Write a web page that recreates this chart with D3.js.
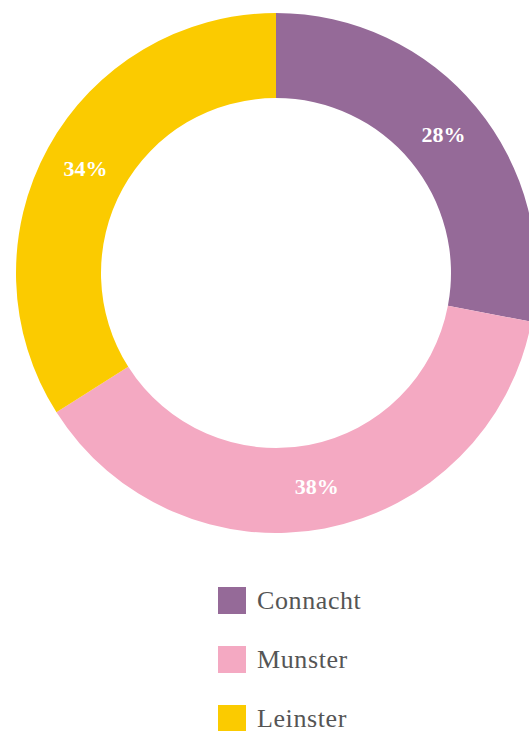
<!DOCTYPE html>
<html>
<head>
<meta charset="utf-8">
<script src="https://cdn.jsdelivr.net/npm/d3@7"></script>
<style>
  body { margin: 0; background: #fff; }
  svg { display: block; }
</style>
</head>
<body>
<svg id="chart" width="529" height="731"></svg>
<script>
// data
var regions = ["Connacht", "Munster", "Leinster"];
var shares = [28, 38, 34];
var colours = ["#956a98", "#f4a9c2", "#fbcb00"];

var svg = d3.select("#chart");
var centre = {x: 276, y: 273};
var outerR = 260, innerR = 175;

var pieData = d3.pie().sort(null).value(function(d){ return d.value; })(
    regions.map(function(r, i){ return {name: r, value: shares[i]}; })
);

var colour = d3.scaleOrdinal().domain(regions).range(colours);
var arc = d3.arc().innerRadius(innerR).outerRadius(outerR);

var donut = svg.append("g")
    .attr("transform", "translate(" + centre.x + "," + centre.y + ")");

donut.selectAll("path").data(pieData).enter()
    .append("path")
    .attr("d", arc)
    .attr("fill", function(d){ return colour(d.data.name); });

// percent labels
donut.selectAll("text").data(pieData).enter()
    .append("text")
    .attr("x", function(d){ return arc.centroid(d)[0]; })
    .attr("y", function(d){ return arc.centroid(d)[1]; })
    .attr("dy", "0.35em")
    .attr("text-anchor", "middle")
    .attr("fill", "#fff")
    .attr("font-family", "'Liberation Serif', serif")
    .attr("font-weight", "bold")
    .attr("font-size", 22)
    .text(function(d){ return d.data.value + "%"; });

// legend
var legendY = d3.scalePoint().domain(regions).range([600, 718]);
var legend = svg.append("g").attr("class", "legend");

var rows = legend.selectAll("g").data(regions).enter()
    .append("g")
    .attr("transform", function(d){ return "translate(218," + legendY(d) + ")"; });

rows.append("rect")
    .attr("x", 0)
    .attr("y", -13)
    .attr("width", 28)
    .attr("height", 27)
    .attr("fill", function(d){ return colour(d); });

rows.append("text")
    .attr("x", 39)
    .attr("y", 9)
    .attr("fill", "#555")
    .attr("font-family", "'Liberation Serif', serif")
    .attr("font-size", 26)
    .attr("letter-spacing", 0.6)
    .text(function(d){ return d; });
</script>
</body>
</html>
